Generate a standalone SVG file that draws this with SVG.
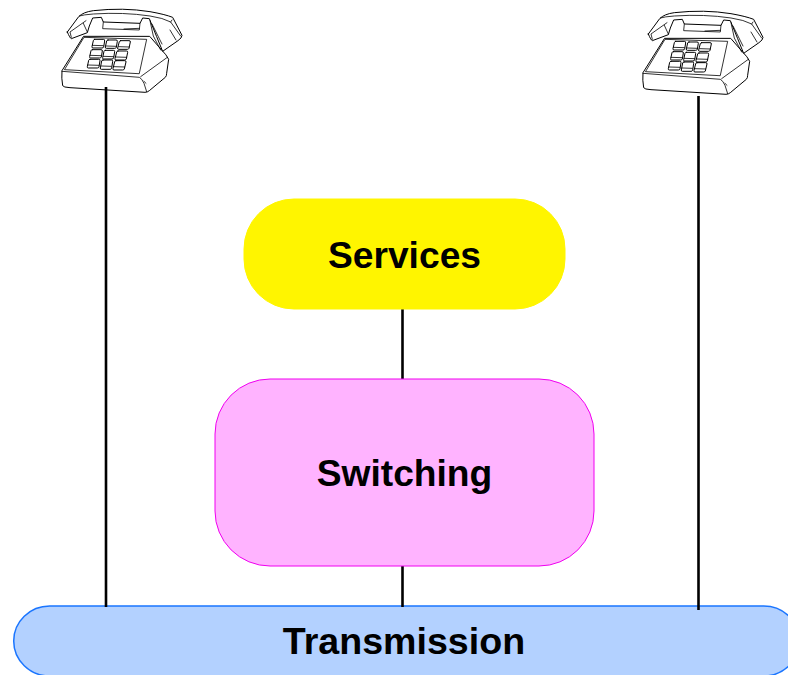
<svg xmlns="http://www.w3.org/2000/svg" width="788" height="675" viewBox="0 0 788 675">
<style>
.t{font-family:"Liberation Sans",Arial,sans-serif;font-weight:bold;font-size:37.2px;fill:#000;text-anchor:middle}
.c{stroke:#000;stroke-width:2.6;fill:none}
.p{fill:#fff;stroke:#000;stroke-width:3;stroke-linejoin:round;stroke-linecap:round}
.l{fill:none;stroke:#000;stroke-width:2.4;stroke-linecap:round;stroke-linejoin:round}
</style>
<defs>
<g id="phone">
<path class="p" d="M100 110L36 212Q34 235 38 257Q40 262 60 263L285 277Q292 277 298 272L346 232Q350 228 350 220L356 178Q350 165 335 150L300 110Z"/>
<path class="l" d="M36 214L268 232Q276 236 282 250L290 275M272 230L352 172M282 244L288 250"/>
<path class="l" d="M44 208L102 112L290 118L268 220Z"/>
<path class="p" d="M52 96L86 50Q100 36 130 32Q220 22 300 35Q345 43 368 52L396 106Q396 114 384 122L338 154L320 110L303 68L298 56L278 54L270 70L160 66L154 52L128 54L118 78L112 98L64 116Q60 115 52 96Z"/>
<path class="l" d="M88 48Q100 44 130 42Q220 36 300 48Q340 54 362 66L392 108M362 66L366 60M300 62L310 108L332 150M306 72L336 132M160 66L158 86L268 90L270 70M222 87L268 85M360 90L378 120M64 112L60 96L108 62M112 96L100 70"/>
<path class="p" d="M134 118h26q5 0 4 5l-3 18q-1 3 -5 3h-27q-4 0 -3 -4l4 -18q1 -4 4 -4zM174 120h24q5 0 4 4l-3 18q-1 3 -5 3h-25q-4 0 -3 -4l4 -18q1 -3 4 -3zM212 122h25q5 0 4 4l-4 19q-1 3 -5 3h-26q-4 0 -3 -4l5 -19q1 -3 4 -3zM127 149h26q5 0 4 4l-3 18q-1 3 -5 3h-27q-4 0 -3 -4l4 -18q1 -3 4 -3zM166 151h24q5 0 4 4l-3 19q-1 3 -5 3h-25q-4 0 -3 -4l4 -19q1 -3 4 -3zM204 153h25q5 0 4 4l-4 20q-1 3 -5 3h-26q-4 0 -3 -4l5 -20q1 -3 4 -3zM120 178h26q5 0 4 4l-3 19q-1 3 -5 3h-27q-4 0 -3 -4l4 -19q1 -3 4 -3zM159 180h25q5 0 4 4l-3 21q-1 3 -5 3h-26q-4 0 -3 -4l4 -21q1 -3 4 -3zM198 182h26q5 0 4 4l-5 21q-1 3 -5 3h-26q-4 0 -3 -4l5 -21q1 -3 4 -3z"/>
<path class="l" d="M127 136l33 1M168 138l31 1M206 140l32 1M120 166l33 1M160 169l31 1M198 171l32 1M113 195l33 1M153 198l31 1M192 200l32 1"/>
</g>
</defs>
<g id="node-transmission">
<rect x="13.7" y="606" width="786" height="70" rx="36" ry="35" fill="#b3d1ff" stroke="#1a75ff" stroke-width="1.5"/>
<text class="t" x="404" y="654" style="font-size:37.6px">Transmission</text>
</g>
<g id="node-phone-left">
<use href="#phone" transform="translate(50,0) scale(.3333)"/>
</g>
<g id="node-phone-right">
<use href="#phone" transform="translate(631,2) scale(.3333,.3333)"/>
</g>
<g id="connectors">
<line class="c" x1="106" y1="87" x2="106" y2="607"/>
<line class="c" x1="698.500" y1="96" x2="698.500" y2="610"/>
<line class="c" x1="402.500" y1="309" x2="402.500" y2="379"/>
<line class="c" x1="402.500" y1="566" x2="402.500" y2="607"/>
</g>
<g id="node-services">
<rect x="244" y="199" width="321" height="110" rx="50" ry="50" fill="#fff500" stroke="#fff500"/>
<text class="t" x="404.500" y="268">Services</text>
</g>
<g id="node-switching">
<rect x="215" y="379" width="379" height="187" rx="55" ry="55" fill="#ffb3ff" stroke="#f000f0" stroke-width="1"/>
<text class="t" x="404.500" y="486">Switching</text>
</g>
</svg>
